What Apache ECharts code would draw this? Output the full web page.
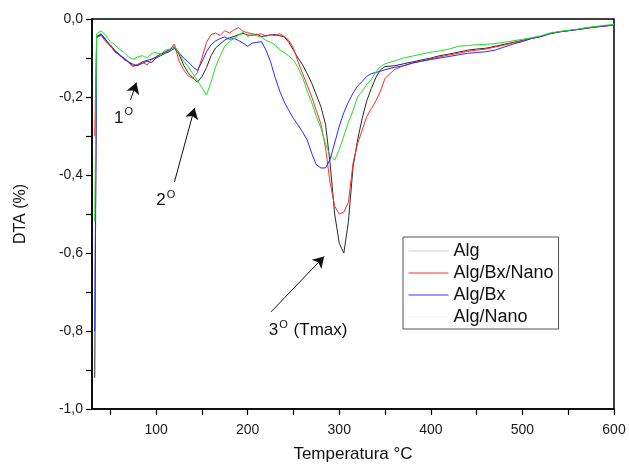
<!DOCTYPE html>
<html>
<head>
<meta charset="utf-8">
<script src="https://cdn.jsdelivr.net/npm/echarts@6/dist/echarts.min.js"></script>
<style>
html,body{margin:0;padding:0;background:#fff;}
#chart{width:629px;height:465px;}
</style>
</head>
<body>
<div id="chart"></div>
<script>
// Temperature (°C)
var temps = [33,35,40,45,50,55,60,65,70,75,80,85,90,95,100,105,110,115,120,125,130,135,140,145,150,155,160,165,170,175,180,185,190,195,200,205,210,215,220,225,230,235,240,245,250,255,260,265,270,275,280,285,290,295,300,305,310,315,320,325,330,335,340,345,350,360,370,380,390,400,410,420,430,440,450,460,470,480,490,500,510,520,530,540,550,560,570,580,590,600];

var alg = [-0.92,-0.045,-0.038,-0.052,-0.07,-0.082,-0.09,-0.104,-0.11,-0.12,-0.118,-0.114,-0.108,-0.112,-0.1,-0.094,-0.088,-0.083,-0.075,-0.09,-0.118,-0.138,-0.15,-0.162,-0.148,-0.125,-0.094,-0.074,-0.064,-0.054,-0.048,-0.045,-0.04,-0.037,-0.041,-0.042,-0.039,-0.045,-0.043,-0.041,-0.04,-0.043,-0.046,-0.06,-0.08,-0.1,-0.118,-0.14,-0.165,-0.195,-0.225,-0.27,-0.37,-0.5,-0.575,-0.6,-0.52,-0.38,-0.31,-0.255,-0.21,-0.178,-0.15,-0.13,-0.122,-0.12,-0.115,-0.11,-0.105,-0.1,-0.094,-0.09,-0.085,-0.08,-0.077,-0.075,-0.07,-0.065,-0.06,-0.055,-0.049,-0.045,-0.037,-0.033,-0.03,-0.027,-0.024,-0.02,-0.018,-0.015];

var algBxNano = [-0.30,-0.048,-0.042,-0.058,-0.068,-0.085,-0.092,-0.1,-0.112,-0.122,-0.116,-0.11,-0.118,-0.104,-0.098,-0.09,-0.086,-0.078,-0.064,-0.108,-0.13,-0.146,-0.152,-0.138,-0.1,-0.06,-0.04,-0.036,-0.042,-0.03,-0.036,-0.028,-0.022,-0.032,-0.035,-0.038,-0.04,-0.038,-0.044,-0.04,-0.043,-0.038,-0.045,-0.055,-0.075,-0.11,-0.14,-0.17,-0.2,-0.235,-0.27,-0.33,-0.42,-0.48,-0.5,-0.495,-0.47,-0.37,-0.32,-0.285,-0.25,-0.23,-0.21,-0.185,-0.152,-0.13,-0.12,-0.113,-0.108,-0.102,-0.097,-0.092,-0.088,-0.083,-0.08,-0.077,-0.072,-0.067,-0.061,-0.056,-0.05,-0.045,-0.038,-0.033,-0.03,-0.027,-0.023,-0.021,-0.018,-0.016];

var algBx = [-0.80,-0.046,-0.04,-0.055,-0.066,-0.08,-0.094,-0.1,-0.11,-0.116,-0.12,-0.11,-0.106,-0.103,-0.097,-0.09,-0.084,-0.079,-0.071,-0.086,-0.1,-0.11,-0.122,-0.132,-0.11,-0.084,-0.066,-0.056,-0.05,-0.046,-0.052,-0.05,-0.055,-0.062,-0.07,-0.062,-0.06,-0.058,-0.08,-0.11,-0.15,-0.185,-0.213,-0.235,-0.255,-0.272,-0.29,-0.31,-0.345,-0.374,-0.382,-0.382,-0.36,-0.318,-0.275,-0.24,-0.213,-0.19,-0.172,-0.16,-0.147,-0.14,-0.137,-0.134,-0.13,-0.124,-0.12,-0.113,-0.108,-0.104,-0.1,-0.096,-0.092,-0.088,-0.086,-0.084,-0.08,-0.072,-0.064,-0.058,-0.05,-0.045,-0.038,-0.033,-0.03,-0.027,-0.023,-0.02,-0.018,-0.015];

var algNano = [-0.52,-0.038,-0.03,-0.042,-0.058,-0.066,-0.078,-0.086,-0.098,-0.103,-0.097,-0.094,-0.1,-0.088,-0.086,-0.09,-0.08,-0.077,-0.068,-0.088,-0.108,-0.122,-0.14,-0.158,-0.176,-0.195,-0.162,-0.122,-0.094,-0.07,-0.058,-0.05,-0.042,-0.034,-0.045,-0.04,-0.043,-0.047,-0.055,-0.06,-0.066,-0.08,-0.086,-0.095,-0.105,-0.125,-0.15,-0.185,-0.215,-0.25,-0.28,-0.32,-0.35,-0.362,-0.335,-0.3,-0.265,-0.235,-0.2,-0.185,-0.168,-0.155,-0.135,-0.122,-0.115,-0.108,-0.1,-0.095,-0.09,-0.085,-0.082,-0.077,-0.07,-0.068,-0.066,-0.065,-0.063,-0.06,-0.056,-0.052,-0.048,-0.043,-0.036,-0.032,-0.029,-0.026,-0.022,-0.019,-0.016,-0.014];

var xLabelValues = [100,200,300,400,500,600];
var xTickValues = [50,100,150,200,250,300,350,400,450,500,550,600];
var yLabelValues = [-1.0,-0.8,-0.6,-0.4,-0.2,0.0];
var yTickValues = [-1.0,-0.9,-0.8,-0.7,-0.6,-0.5,-0.4,-0.3,-0.2,-0.1,0.0];

var seriesNames = ['Alg','Alg/Bx/Nano','Alg/Bx','Alg/Nano'];
var seriesData = [alg, algBxNano, algBx, algNano];
var seriesColors = ['#2a2a2a','#ff2a2a','#2a2aff','#22e022'];
var legendColors = ['#c9d0d0','#ff3333','#3333ff','#eef2ee'];

// Annotations (data coordinates)
var arrows = [
  [[72,-0.208],[78.5,-0.163]],
  [[120,-0.418],[142,-0.228]],
  [[225.5,-0.751],[283.5,-0.609]]
];
var notes = [
  {pos:[65,-0.251], text:'1'},
  {pos:[111,-0.462], text:'2'},
  {pos:[266,-0.795], text:'3', extra:' (Tmax)'}
];

var FONT = '"Liberation Sans", Arial, sans-serif';

function pair(xs, ys){ return xs.map(function(x,i){ return [x, ys[i]]; }); }

var series = seriesNames.map(function(n, i){
  return {
    name: n, type: 'line', data: pair(temps, seriesData[i]),
    symbol: 'none', showSymbol: false,
    lineStyle: {color: seriesColors[i], width: 1},
    itemStyle: {color: seriesColors[i]},
    z: 2 + i,
    animation: false
  };
});

// Annotation series (no legend)
series.push({
  name: '_notes', type: 'scatter', data: [], silent: true, animation: false,
  markLine: {
    silent: true, animation: false,
    symbol: ['none','arrow'], symbolSize: [10, 11],
    lineStyle: {color: '#111', width: 1, type: 'solid'},
    label: {show: false},
    data: arrows.map(function(a){ return [{coord: a[0]}, {coord: a[1]}]; })
  },
  markPoint: {
    silent: true, animation: false,
    symbol: 'circle', symbolSize: 0,
    data: notes.map(function(n){
      return {
        coord: n.pos,
        label: {
          show: true, position: 'inside',
          formatter: '{n|' + n.text + '}{s|O}' + (n.extra ? '{n|' + n.extra + '}' : ''),
          rich: {
            n: {fontFamily: FONT, fontSize: 17, color: '#111', lineHeight: 20, verticalAlign: 'bottom'},
            s: {fontFamily: FONT, fontSize: 11, color: '#111', lineHeight: 20, verticalAlign: 'top', padding: [0,1,0,1]}
          }
        }
      };
    })
  }
});

var chart = echarts.init(document.getElementById('chart'), null, {renderer: 'canvas'});
chart.setOption({
  animation: false,
  backgroundColor: '#fff',
  grid: {left: 92, right: 15, top: 19, bottom: 56, show: true, borderColor: '#000', borderWidth: 1.5,
    containLabel: false, outerBoundsMode: 'none'},
  legend: {
    orient: 'vertical', left: 403, top: 237,
    data: seriesNames.map(function(n, i){
      return {name: n, lineStyle: {color: legendColors[i], width: 1}, itemStyle: {opacity: 0}};
    }),
    itemWidth: 40, itemHeight: 14, itemGap: 4,
    padding: [5, 5, 3, 5],
    borderColor: '#555', borderWidth: 1,
    backgroundColor: '#fff',
    textStyle: {fontFamily: FONT, fontSize: 18, lineHeight: 18, color: '#111'},
    selectedMode: false
  },
  xAxis: {
    type: 'value', min: 30, max: 600,
    name: 'Temperatura °C', nameLocation: 'middle', nameGap: 37,
    nameTextStyle: {fontFamily: FONT, fontSize: 17, color: '#111'},
    axisLine: {show: true, onZero: false, lineStyle: {color: '#000', width: 1.5}},
    axisTick: {show: true, customValues: xTickValues, length: 6, inside: false, lineStyle: {color: '#000', width: 1.2}},
    axisLabel: {customValues: xLabelValues, fontFamily: FONT, fontSize: 14, color: '#1a1a1a', margin: 14},
    splitLine: {show: false}
  },
  yAxis: {
    type: 'value', min: -1, max: 0,
    name: 'DTA (%)', nameLocation: 'middle', nameGap: 63, nameRotate: 90,
    nameTextStyle: {fontFamily: FONT, fontSize: 16, color: '#111'},
    axisLine: {show: true, onZero: false, lineStyle: {color: '#000', width: 1.5}},
    axisTick: {show: true, customValues: yTickValues, length: 6, inside: false, lineStyle: {color: '#000', width: 1.2}},
    axisLabel: {customValues: yLabelValues, fontFamily: FONT, fontSize: 14, color: '#1a1a1a', margin: 9,
      formatter: function(v){ return v.toFixed(1).replace('.', ','); }},
    splitLine: {show: false}
  },
  series: series
});
</script>
</body>
</html>
